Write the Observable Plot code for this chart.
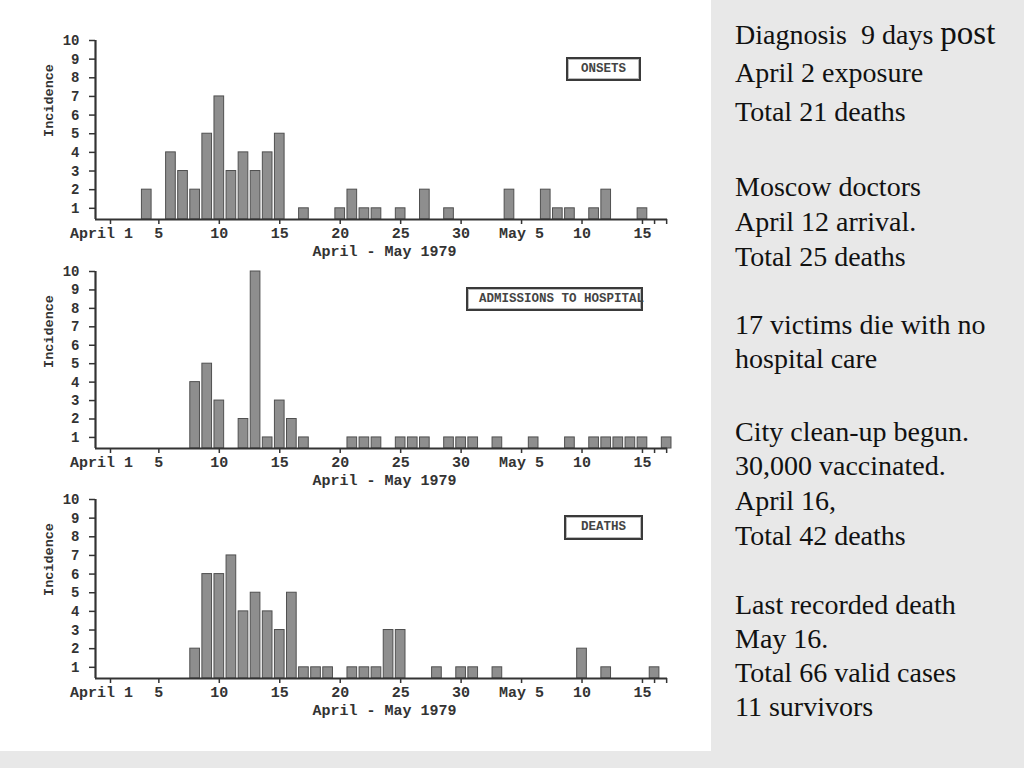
<!DOCTYPE html>
<html>
<head>
<meta charset="utf-8">
<script src="https://cdn.jsdelivr.net/npm/d3@7"></script>
<script src="https://cdn.jsdelivr.net/npm/@observablehq/plot@0.6"></script>
<style>
  html, body { margin: 0; padding: 0; }
  body { background: #e8e8e8; width: 1024px; height: 768px; overflow: hidden; position: relative; }
  #sheet { position: absolute; left: 0; top: 0; width: 711px; height: 751px; background: #fff; }
  .panel { position: absolute; left: 0; }
  .panel svg { background: transparent !important; overflow: visible; }
  .tag { position: absolute; box-sizing: border-box; border: 2px solid #3a3a3a; background: #fff;
         font: bold 12.5px "Liberation Mono", monospace; color: #444; white-space: nowrap;
         line-height: 20px; box-shadow: inset 0 0 0 1px #bbb; }
  .note { position: absolute; left: 735px; font: 28px "Liberation Serif", "Times New Roman", serif;
          color: #111; white-space: pre; line-height: 28px; }
</style>
</head>
<body>
<div id="sheet"></div>
<script>
// ---------- data (day of month; April then May 1979) ----------
const tickDates  = ["04-01","04-05","04-10","04-15","04-20","04-25","04-30","05-05","05-10","05-15","05-16","05-17"];
const tickLabels = ["April 1","5","10","15","20","25","30","May 5","10","15","",""];
const yTicks = [1,2,3,4,5,6,7,8,9,10];

const onsetDates  = ["04-04","04-06","04-07","04-08","04-09","04-10","04-11","04-12","04-13","04-14","04-15","04-17","04-20","04-21","04-22","04-23","04-25","04-27","04-29","05-04","05-07","05-08","05-09","05-11","05-12","05-15"];
const onsetCounts = [2,4,3,2,5,7,3,4,3,4,5,1,1,2,1,1,1,2,1,2,2,1,1,1,2,1];

const admitDates  = ["04-08","04-09","04-10","04-12","04-13","04-14","04-15","04-16","04-17","04-21","04-22","04-23","04-25","04-26","04-27","04-29","04-30","05-01","05-03","05-06","05-09","05-11","05-12","05-13","05-14","05-15","05-17"];
const admitCounts = [4,5,3,2,10,1,3,2,1,1,1,1,1,1,1,1,1,1,1,1,1,1,1,1,1,1,1];

const deathDates  = ["04-08","04-09","04-10","04-11","04-12","04-13","04-14","04-15","04-16","04-17","04-18","04-19","04-21","04-22","04-23","04-24","04-25","04-28","04-30","05-01","05-03","05-10","05-12","05-16"];
const deathCounts = [2,6,6,7,4,5,4,3,5,1,1,1,1,1,1,3,3,1,1,1,1,2,1,1];

const panelTags = ["ONSETS", "ADMISSIONS TO HOSPITAL", "DEATHS"];
const xTitle = "April - May 1979";
const yTitle = "Incidence";

const notes = [
  "Diagnosis  9 days ", "April 2 exposure", "Total 21 deaths",
  "Moscow doctors", "April 12 arrival.", "Total 25 deaths",
  "17 victims die with no", "hospital care",
  "City clean-up begun.", "30,000 vaccinated.", "April 16,", "Total 42 deaths",
  "Last recorded death", "May 16.", "Total 66 valid cases", "11 survivors"
];

// ---------- scale configuration ----------
const X_DOMAIN = [-0.24, 47.07];
const Y_DOMAIN = [0.4, 10];
const dayNum = s => { const [m, d] = s.split("-").map(Number); return m === 4 ? d : 30 + d; };
const ticks = tickDates.map((s, i) => ({day: dayNum(s), label: tickLabels[i]}));

function panel(dates, counts, areaH) {
  const data = dates.map((s, i) => ({day: dayNum(s), n: counts[i]}));
  return Plot.plot({
    width: 711,
    height: 20 + areaH + 45,
    marginTop: 20, marginBottom: 45, marginLeft: 95, marginRight: 44,
    style: {background: "transparent", fontFamily: "Liberation Mono, monospace", fontWeight: "bold", color: "#333"},
    x: {domain: X_DOMAIN},
    y: {domain: Y_DOMAIN},
    marks: [
      Plot.rectY(data, {x1: d => d.day - 0.4, x2: d => d.day + 0.4, y1: Y_DOMAIN[0], y2: "n",
                        fill: "#8e8e8e", stroke: "#505050", strokeWidth: 1}),
      Plot.axisY({ticks: yTicks, tickSize: 6, tickPadding: 10, fontSize: 14, label: null,
                  stroke: "#333", strokeWidth: 1.5}),
      Plot.axisX({ticks: ticks.map(t => t.day), tickSize: 5, tickFormat: () => "", label: null,
                  stroke: "#333", strokeWidth: 1.5}),
      Plot.ruleY([Y_DOMAIN[0]], {stroke: "#333", strokeWidth: 2.2}),
      Plot.ruleX([X_DOMAIN[0]], {y1: Y_DOMAIN[0], y2: Y_DOMAIN[1], stroke: "#333", strokeWidth: 2.2}),
      Plot.text(ticks.filter(t => t.label && t.label !== "April 1"),
                {x: "day", text: "label", frameAnchor: "bottom", dy: 18, fontSize: 15, fill: "#333"}),
      Plot.text(ticks.filter(t => t.label === "April 1"),
                {x: "day", text: "label", frameAnchor: "bottom", dy: 18, dx: -9, fontSize: 15, fill: "#333"}),
      Plot.text([xTitle], {frameAnchor: "bottom", dy: 36, dx: 3, fontSize: 15, fill: "#333"}),
      Plot.text([yTitle], {frameAnchor: "top-left", textAnchor: "middle", lineAnchor: "middle",
                           dx: -47, dy: 60, rotate: -90, fontSize: 13.5, fill: "#333"})
    ]
  });
}

const sheet = document.getElementById("sheet");
const panels = [
  {dates: onsetDates, counts: onsetCounts, top: 20, areaH: 179, tag: {left: 566, top: 57, w: 75, h: 24, pad: 0}},
  {dates: admitDates, counts: admitCounts, top: 251, areaH: 177, tag: {left: 466, top: 287, w: 177, h: 24, pad: 11}},
  {dates: deathDates, counts: deathCounts, top: 479, areaH: 179, tag: {left: 564, top: 515, w: 79, h: 25, pad: 0}}
];
panels.forEach((p, i) => {
  const div = document.createElement("div");
  div.className = "panel";
  div.style.top = p.top + "px";
  div.appendChild(panel(p.dates, p.counts, p.areaH));
  sheet.appendChild(div);
  const tag = document.createElement("div");
  tag.className = "tag";
  tag.textContent = panelTags[i];
  Object.assign(tag.style, {left: p.tag.left + "px", top: p.tag.top + "px", width: p.tag.w + "px",
    height: p.tag.h + "px", textAlign: p.tag.pad ? "left" : "center", paddingLeft: p.tag.pad + "px"});
  sheet.appendChild(tag);
});

// right-hand notes (baseline positions)
const baselines = [41, 81, 120, 195, 230, 265, 333, 367, 440, 474, 509, 544, 613, 647, 681, 715];
notes.forEach((t, i) => {
  const d = document.createElement("div");
  d.className = "note";
  d.style.top = (baselines[i] - 22) + "px";
  d.textContent = t;
  if (i === 0) {
    const s = document.createElement("span");
    s.textContent = "post";
    s.style.fontSize = "33px";
    d.appendChild(s);
  }
  document.body.appendChild(d);
});
</script>
</body>
</html>
